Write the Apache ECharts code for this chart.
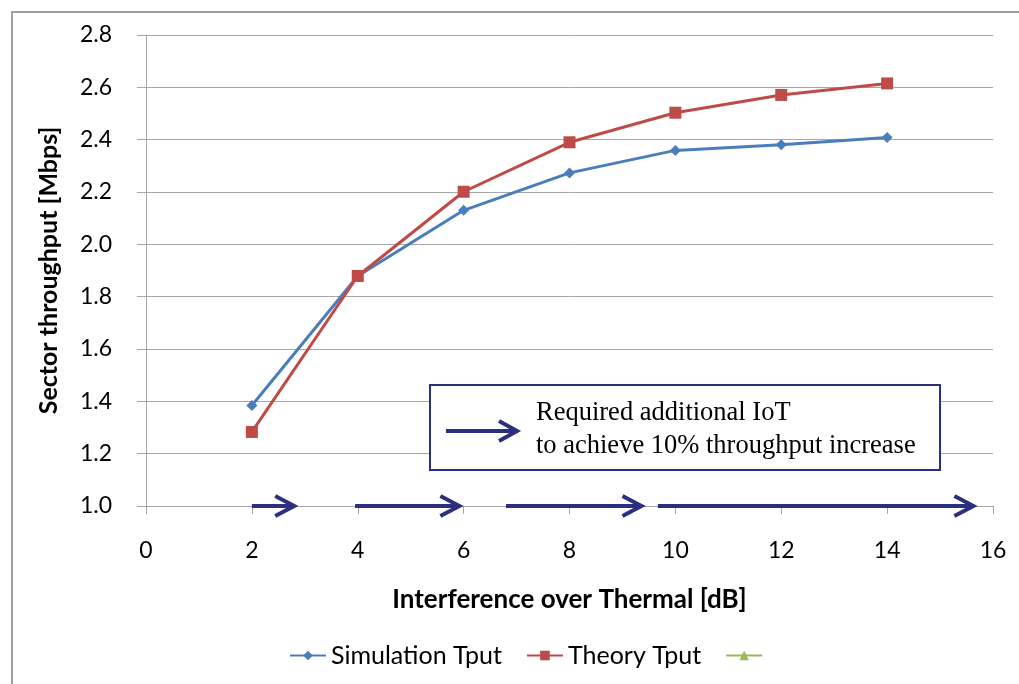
<!DOCTYPE html>
<html>
<head>
<meta charset="utf-8">
<script src="https://cdn.jsdelivr.net/npm/echarts@6/dist/echarts.min.js"></script>
<style>html,body{margin:0;padding:0;background:#fff;}#c{width:1019px;height:684px;}</style>
</head>
<body>
<div id="c"></div>
<script>
const iot = [2, 4, 6, 8, 10, 12, 14];
const simulationTput = [1.384, 1.879, 2.130, 2.273, 2.359, 2.381, 2.408];
const theoryTput = [1.283, 1.879, 2.201, 2.390, 2.503, 2.571, 2.615];
const arrowStart = [2.0, 3.95, 6.8, 9.67];
const arrowEnd = [2.8, 5.92, 9.36, 15.63];
const arrowLevel = [1.0, 1.0, 1.0, 1.0];
const yTicks = ['1.0','1.2','1.4','1.6','1.8','2.0','2.2','2.4','2.6','2.8'];

const font = 'Lato';
const navy = '#2B2F7D';
const chart = echarts.init(document.getElementById('c'));
chart.setOption({
  animation: false,
  backgroundColor: '#fff',
  textStyle: { fontFamily: font },
  grid: { left: 146, right: 26, top: 35, bottom: 178 },
  legend: {
    bottom: 11, left: 284,
    itemWidth: 36, itemHeight: 12, itemGap: 24,
    textStyle: { fontFamily: font, fontSize: 25, color: '#000' },
    data: [{ name: 'Simulation Tput' }, { name: 'Theory Tput' }, { name: ' ' }]
  },
  xAxis: {
    type: 'value', min: 0, max: 16, interval: 2,
    name: 'Interference over Thermal [dB]', nameLocation: 'middle', nameGap: 81,
    nameTextStyle: { fontFamily: font, fontSize: 26, fontWeight: 'bold', color: '#000' },
    axisLine: { lineStyle: { color: '#A6A6A6', width: 1 } },
    axisTick: { show: true, length: 8, lineStyle: { color: '#A6A6A6' } },
    axisLabel: { fontFamily: font, fontSize: 23, color: '#000', margin: 33 },
    splitLine: { show: false }
  },
  yAxis: {
    type: 'value', min: 1.0, max: 2.8, interval: 0.2,
    name: 'Sector throughput [Mbps]', nameLocation: 'middle', nameGap: 85,
    nameTextStyle: { fontFamily: font, fontSize: 25, fontWeight: 'bold', color: '#000' },
    axisLine: { show: true, lineStyle: { color: '#A6A6A6', width: 1 } },
    axisTick: { show: true, length: 9, lineStyle: { color: '#A6A6A6' } },
    axisLabel: { fontFamily: font, fontSize: 23, color: '#000', margin: 34,
      formatter: function (v) { const s = v.toFixed(1); return yTicks.indexOf(s) >= 0 ? s : ''; } },
    splitLine: { show: true, lineStyle: { color: '#A6A6A6', width: 1 } }
  },
  series: [
    {
      name: 'Simulation Tput', type: 'line',
      data: iot.map((x, i) => [x, simulationTput[i]]),
      symbol: 'diamond', symbolSize: 11,
      lineStyle: { color: '#4A7EBB', width: 3 },
      itemStyle: { color: '#4A7EBB' }, z: 3
    },
    {
      name: 'Theory Tput', type: 'line',
      data: iot.map((x, i) => [x, theoryTput[i]]),
      symbol: 'rect', symbolSize: 12,
      lineStyle: { color: '#BE4B48', width: 3 },
      itemStyle: { color: '#BE4B48' }, z: 4
    },
    {
      name: ' ', type: 'line', data: [],
      symbol: 'triangle', symbolSize: 10,
      lineStyle: { color: '#98B954', width: 3 },
      itemStyle: { color: '#98B954' }
    },
    {
      type: 'custom', clip: false, z: 5,
      data: arrowStart.map((s, i) => [s, arrowEnd[i], arrowLevel[i]]),
      encode: { x: [0, 1], y: 2 },
      renderItem: function (params, api) {
        const p0 = api.coord([api.value(0), api.value(2)]);
        const p1 = api.coord([api.value(1), api.value(2)]);
        return {
          type: 'group',
          children: [
            { type: 'polyline', shape: { points: [[p0[0], p0[1]], [p1[0] - 3, p1[1]]] },
              style: { stroke: navy, lineWidth: 4, fill: null } },
            { type: 'polyline', shape: { points: [[p1[0] - 19, p1[1] - 10], [p1[0], p1[1]], [p1[0] - 19, p1[1] + 10]] },
              style: { stroke: navy, lineWidth: 4, fill: null, lineJoin: 'miter' } }
          ]
        };
      }
    }
  ],
  graphic: [
    { type: 'rect', shape: { x: 12, y: 12, width: 1100, height: 800 },
      style: { fill: null, stroke: '#A0A0A0', lineWidth: 2 }, silent: true },
    { type: 'rect', shape: { x: 430, y: 385, width: 510, height: 85 },
      style: { fill: '#fff', stroke: navy, lineWidth: 2 }, z: 10 },
    { type: 'polyline', shape: { points: [[446, 431], [515, 431]] },
      style: { stroke: navy, lineWidth: 4, fill: null }, z: 11 },
    { type: 'polyline', shape: { points: [[499, 421], [517, 431], [499, 441]] },
      style: { stroke: navy, lineWidth: 4, fill: null }, z: 11 },
    { type: 'text', left: 536, top: 397, z: 11,
      style: { text: 'Required additional IoT\nto achieve 10% throughput increase',
        font: '26.5px "Liberation Serif"', fill: '#000', lineHeight: 33 } }
  ]
});
</script>
</body>
</html>
